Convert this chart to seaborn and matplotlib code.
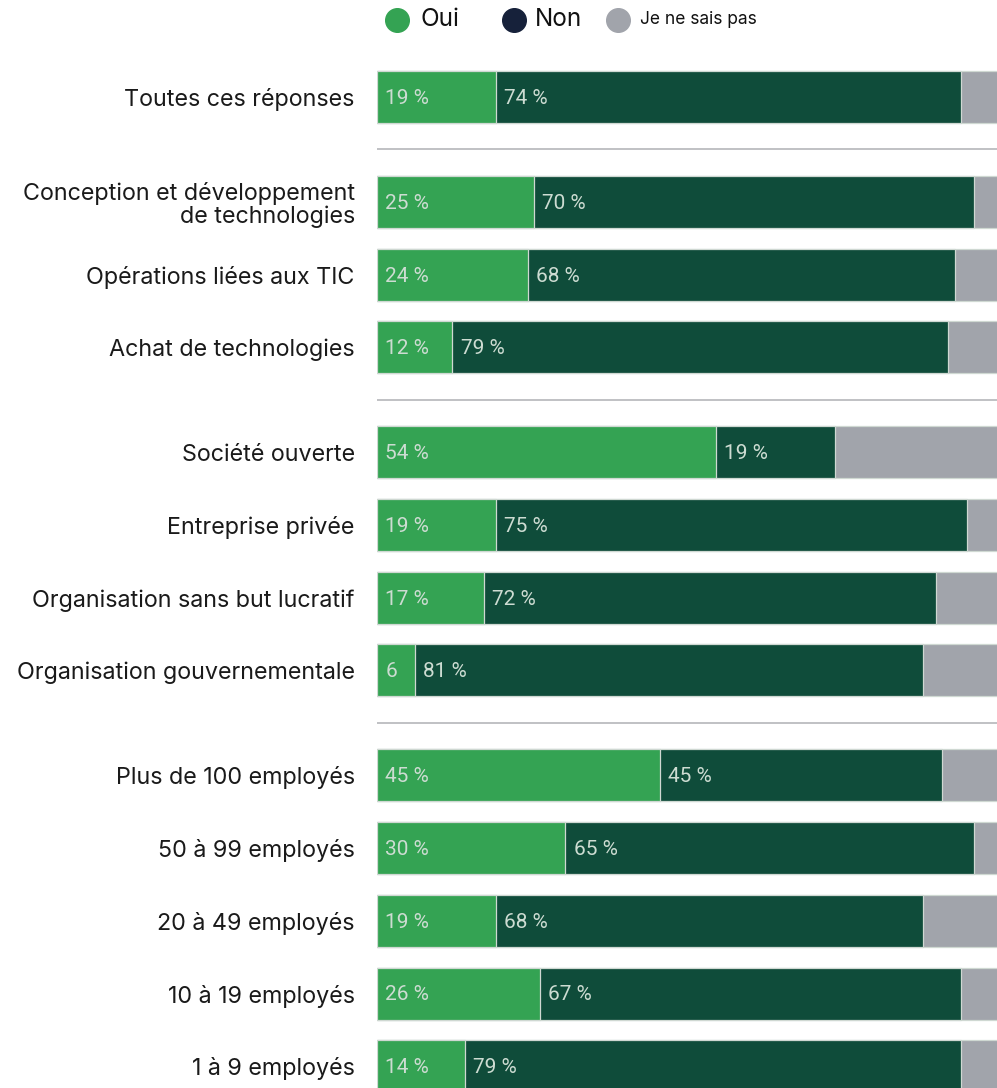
import numpy as np
import pandas as pd
import matplotlib
matplotlib.use("Agg")
import matplotlib.pyplot as plt
from matplotlib.lines import Line2D
import seaborn as sns

# Survey rows, top to bottom
categories = [
    "Toutes ces réponses",
    "Conception et développement\nde technologies",
    "Opérations liées aux TIC",
    "Achat de technologies",
    "Société ouverte",
    "Entreprise privée",
    "Organisation sans but lucratif",
    "Organisation gouvernementale",
    "Plus de 100 employés",
    "50 à 99 employés",
    "20 à 49 employés",
    "10 à 19 employés",
    "1 à 9 employés",
]
group_id = [0, 1, 1, 1, 2, 2, 2, 2, 3, 3, 3, 3, 3]
oui = [19, 25, 24, 12, 54, 19, 17, 6, 45, 30, 19, 26, 14]
non = [74, 70, 68, 79, 19, 75, 72, 81, 45, 65, 68, 67, 79]
nsp = [7, 5, 8, 9, 27, 6, 11, 13, 10, 5, 13, 7, 7]
series_names = ["Oui", "Non", "Je ne sais pas"]

GREEN = "#34a353"
DARK = "#0f4c3a"
GREY = "#a1a4ab"
LEGEND_NON = "#16213a"
EDGE = "#cfd8d2"
VALUE_TXT = "#cddcd2"

sns.set_theme(style="white")
plt.rcParams["font.family"] = ["Inter", "DejaVu Sans"]

W, H = 997, 1088
STEP = 72.7            # px between rows
GAP = 0.444            # extra space between groups, in rows
FIRST = 97             # px centre of the first row

pos = np.arange(len(categories)) + np.array(group_id) * GAP
df = pd.DataFrame({
    "pos": pos,
    "oui": oui,
    "oui_non": np.array(oui) + np.array(non),
    "total": np.array(oui) + np.array(non) + np.array(nsp),
})

fig = plt.figure(figsize=(W / 100, H / 100), dpi=100)
ax = fig.add_axes([377 / W, 0, 628 / W, 1])

common = dict(data=df, y="pos", orient="y", native_scale=True, width=0.715,
              errorbar=None, saturation=1, edgecolor=EDGE, linewidth=0.9, ax=ax)
sns.barplot(x="total", color=GREY, **common)
sns.barplot(x="oui_non", color=DARK, **common)
sns.barplot(x="oui", color=GREEN, **common)

ax.set_xlim(0, 100)
ax.set_ylim((H - FIRST) / STEP, -FIRST / STEP)

# value labels inside the segments
lab_font = dict(family=["Roboto", "DejaVu Sans"], fontsize=15,
                color=VALUE_TXT, va="center", ha="left")
for p, o, n in zip(pos, oui, non):
    ax.text(1.3, p + 0.02, f"{o} %" if o >= 10 else f"{o}", **lab_font)
    ax.text(o + 1.3, p + 0.02, f"{n} %", **lab_font)

# separators between groups
for g in range(1, max(group_id) + 1):
    last = pos[np.array(group_id) == g - 1].max()
    first = pos[np.array(group_id) == g].min()
    ax.axhline((last + first) / 2, color="#b5b6ba", lw=1.2, xmax=0.99)

ax.set_yticks(pos)
ax.set_yticklabels(categories, fontsize=16.8, color="#1a1a1a", linespacing=1.05)
ax.tick_params(axis="y", length=0, pad=16)
ax.set_xticks([])
ax.set_xlabel("")
ax.set_ylabel("")
for s in ax.spines.values():
    s.set_visible(False)

# legend row
leg_y = 1 - 20 / H
legend_items = [
    (397, GREEN, 420, series_names[0], 17.5),
    (514, LEGEND_NON, 535, series_names[1], 17.5),
    (618, GREY, 640, series_names[2], 12.5),
]
for cx, col, tx, txt, fs in legend_items:
    fig.add_artist(Line2D([cx / W], [leg_y], marker="o", markersize=17,
                          color=col, linestyle="none", transform=fig.transFigure))
    fig.text(tx / W, leg_y, txt, fontsize=fs, color="#111111", va="center", ha="left")

fig.savefig("out.png", dpi=100)
